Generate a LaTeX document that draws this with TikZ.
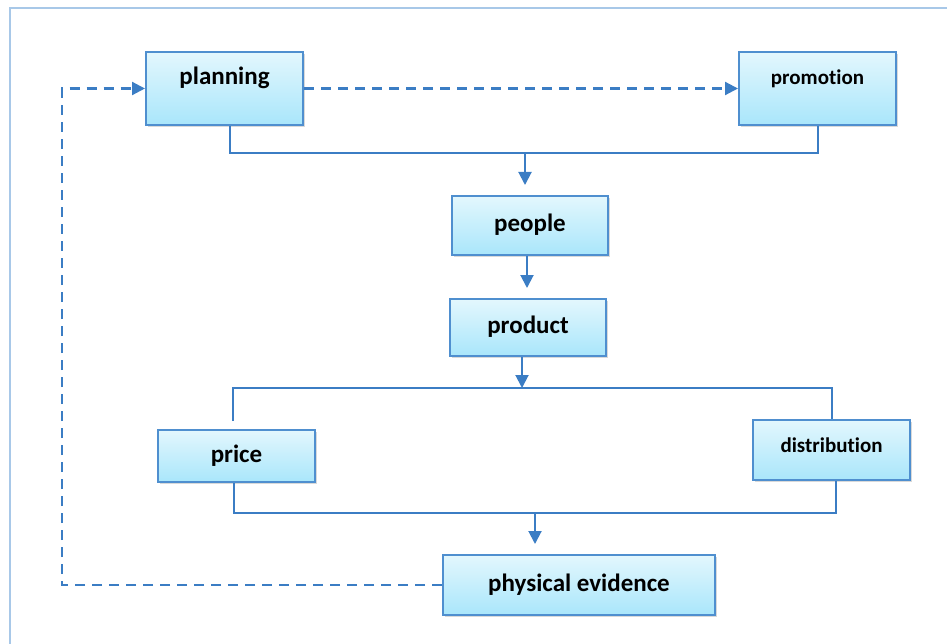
\documentclass[tikz,border=0pt]{standalone}
\usepackage{fontspec}
\setmainfont[Ligatures=NoCommon]{Carlito}
\usetikzlibrary{positioning,arrows.meta,shadows}
\definecolor{lineblue}{HTML}{3B7DC4}
\definecolor{edgeblue}{HTML}{4F8FCF}
\definecolor{frameblue}{HTML}{A8C8E8}
\definecolor{boxtop}{HTML}{E3F7FD}
\definecolor{boxbot}{HTML}{A9E6FB}

\begin{document}
\begin{tikzpicture}[
  x=1pt, y=-1pt,
  font=\bfseries\fontsize{25}{30}\selectfont,
  blk/.style={rectangle, draw=edgeblue, line width=2pt, top color=boxtop, bottom color=boxbot,
              minimum width=157pt, inner sep=0pt, text height=18pt, text depth=6pt,
              drop shadow={opacity=0.3, shadow xshift=2pt, shadow yshift=-2pt}},
  lnk/.style={draw=lineblue, line width=2pt},
  arr/.style={lnk, -{Triangle[width=13pt,length=13pt]}},
  dsh/.style={draw=lineblue, line width=2.2pt, dash pattern=on 10pt off 7pt},
  small/.style={font=\bfseries\fontsize{21}{25}\selectfont}
]
\useasboundingbox (0,0) rectangle (947,644);
\draw[frameblue, line width=2.5pt] (10,644) -- (10,8) -- (947,8);

\node[blk, minimum height=73pt, text depth=26pt] (planning) at (224.5,88.5) {planning};
\node[blk, minimum height=73pt, text depth=26pt, small] (promotion) at (817.5,88.5) {promotion};
\node[blk, minimum width=156pt, minimum height=59pt] (people) at (530,225.5) {people};
\node[blk, minimum width=156pt, minimum height=57pt] (product) at (528,327.5) {product};
\node[blk, minimum height=52pt] (price) at (236.5,456) {price};
\node[blk, minimum height=60pt, text depth=14pt, small] (distribution) at (831.5,450) {distribution};
\node[blk, minimum width=272pt, minimum height=60pt] (evidence) at (579,585) {physical evidence};

% junctions
\coordinate (j1) at (525,153);
\coordinate (j2) at (522,388);
\coordinate (j3) at (535,513);
\coordinate (back) at (62,88.5);

\draw[lnk] ([xshift=5pt]planning.south) |- (j1) -| (promotion.south);
\draw[arr, shorten >=10pt] (j1) -- (j1 |- people.north);
\draw[arr, shorten >=10pt] (people.south -| 527,0) -- (product.north -| 527,0);
\draw[arr] (product.south -| j2) -- (j2);
\draw[lnk] ([xshift=-4pt, yshift=8pt]price.north) |- (j2) -| (distribution.north);
\draw[lnk] ([xshift=-3pt]price.south) |- (j3) -| ([xshift=4pt]distribution.south);
\draw[arr, shorten >=10pt] (j3) -- (j3 |- evidence.north);

\draw[dsh, -{Triangle[width=13pt,length=13pt]}] (planning.east) -- (promotion.west);
\draw[dsh, -{Triangle[width=13pt,length=13pt]}] (evidence.west) -| (back) -- (planning.west);
\end{tikzpicture}
\end{document}
